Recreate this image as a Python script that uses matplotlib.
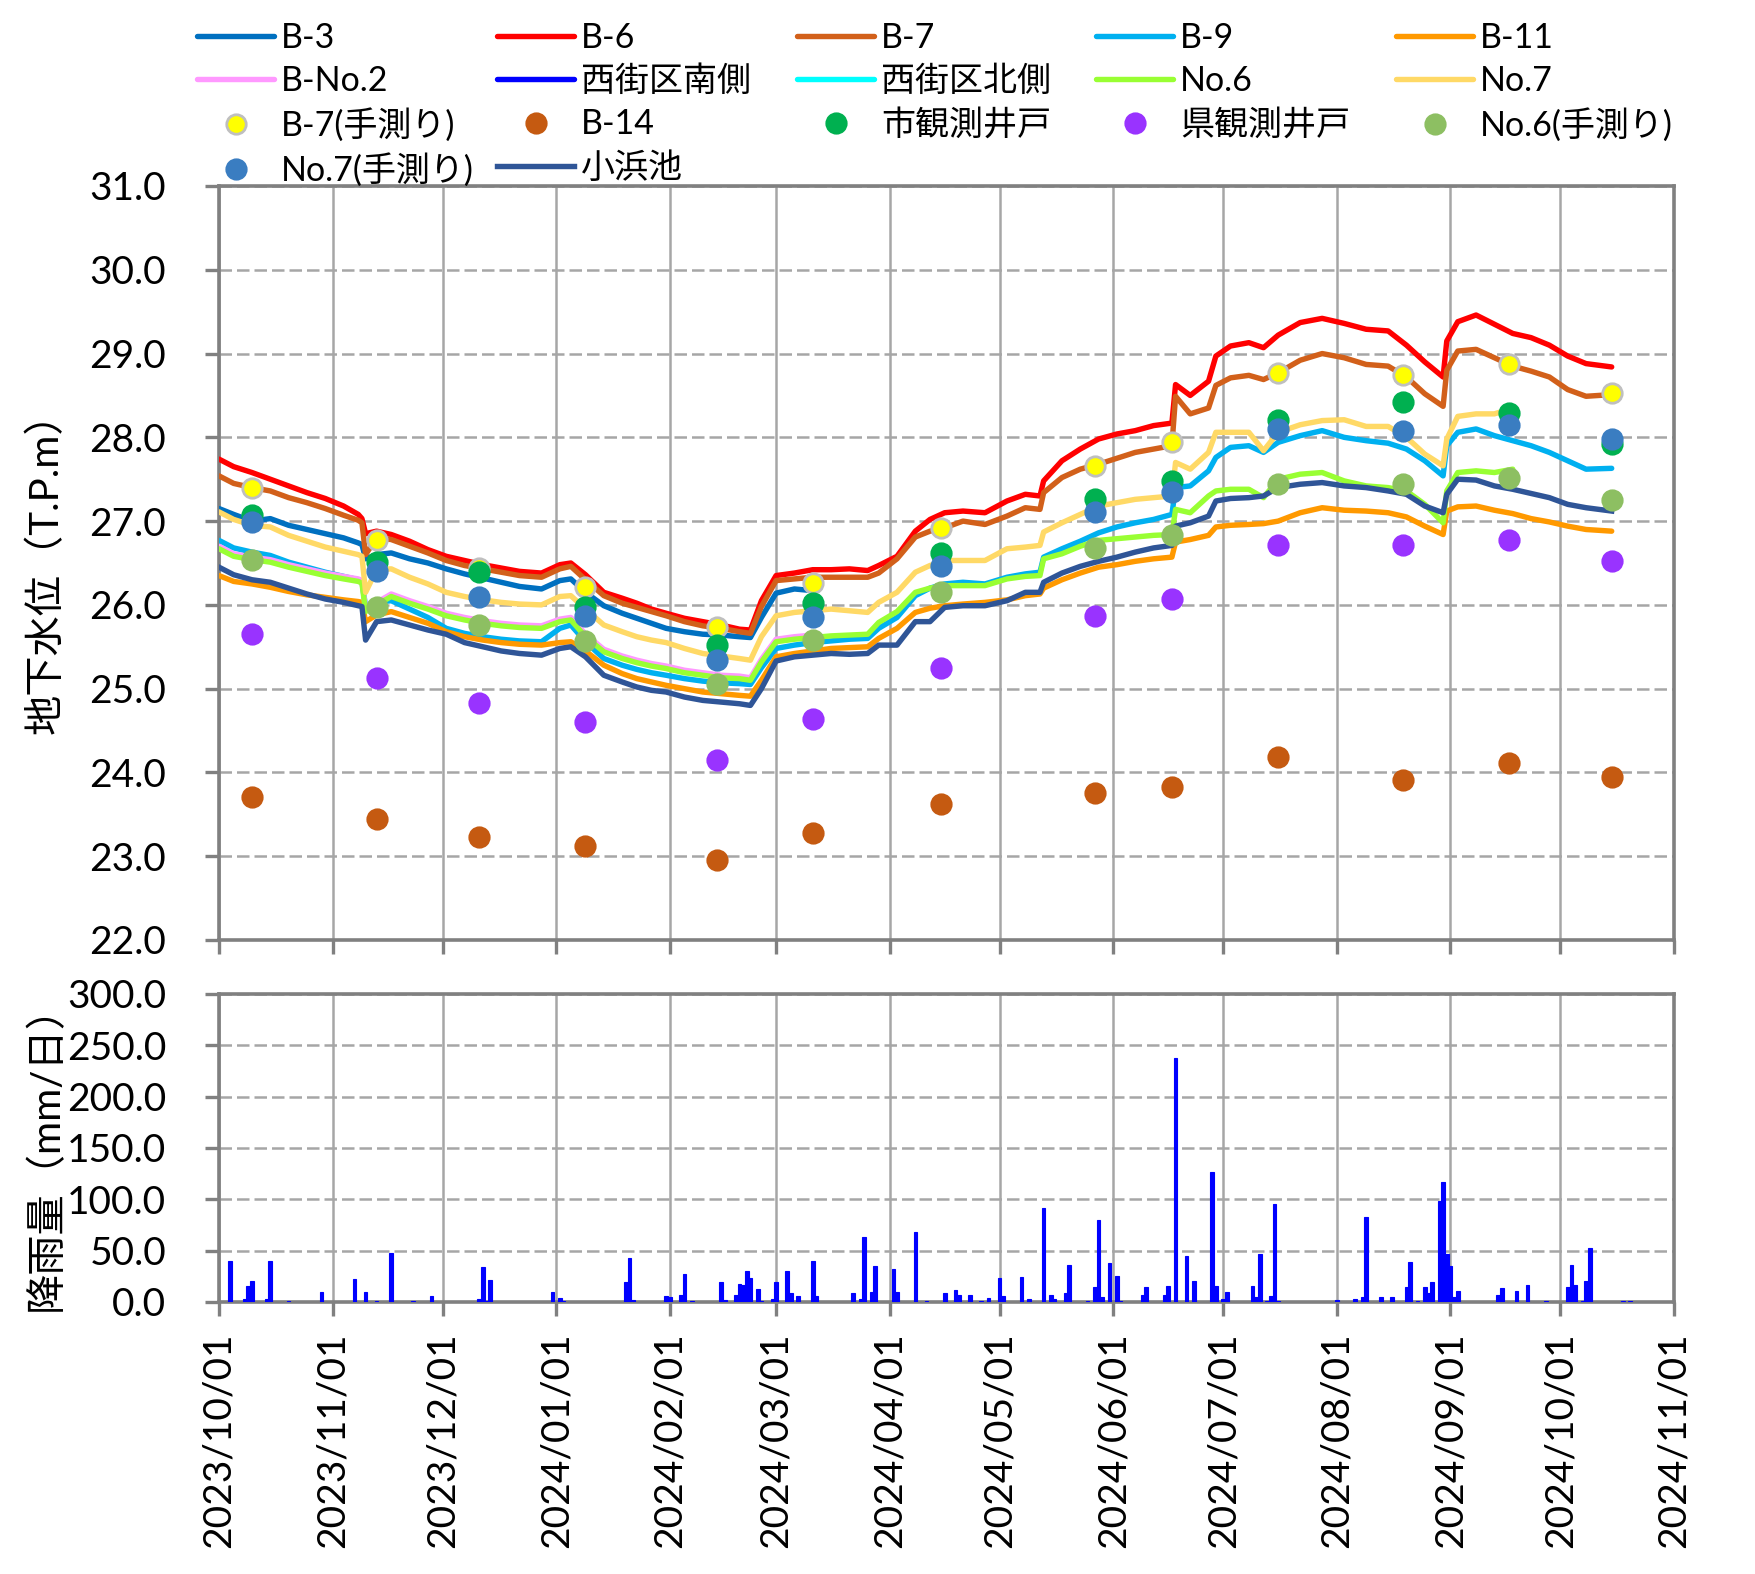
import numpy as np
import pandas as pd
import matplotlib
matplotlib.use('Agg')
import matplotlib.pyplot as plt
import matplotlib.dates as mdates

plt.rcParams['font.family'] = ['Lato', 'Noto Sans CJK JP']

# ----------------- data -----------------
dates = pd.to_datetime([
    '2023-10-01', '2023-10-05', '2023-10-10', '2023-10-15', '2023-10-20',
    '2023-10-25', '2023-10-30', '2023-11-04', '2023-11-08', '2023-11-09',
    '2023-11-10', '2023-11-13', '2023-11-17', '2023-11-22', '2023-11-27',
    '2023-12-02', '2023-12-07', '2023-12-12', '2023-12-17', '2023-12-22',
    '2023-12-28', '2024-01-02', '2024-01-05', '2024-01-09', '2024-01-14',
    '2024-01-19', '2024-01-23', '2024-01-27', '2024-01-31', '2024-02-05',
    '2024-02-10', '2024-02-15', '2024-02-20', '2024-02-23', '2024-02-26',
    '2024-03-01', '2024-03-06', '2024-03-11', '2024-03-16', '2024-03-21',
    '2024-03-26', '2024-03-29', '2024-04-03', '2024-04-08', '2024-04-12',
    '2024-04-16', '2024-04-21', '2024-04-27', '2024-05-03', '2024-05-08',
    '2024-05-12', '2024-05-13', '2024-05-18', '2024-05-23', '2024-05-28',
    '2024-06-02', '2024-06-07', '2024-06-12', '2024-06-17', '2024-06-18',
    '2024-06-22', '2024-06-27', '2024-06-29', '2024-07-03', '2024-07-08',
    '2024-07-12', '2024-07-16', '2024-07-22', '2024-07-28', '2024-08-03',
    '2024-08-09', '2024-08-15', '2024-08-20', '2024-08-25', '2024-08-30',
    '2024-08-31', '2024-09-03', '2024-09-08', '2024-09-13', '2024-09-18',
    '2024-09-23', '2024-09-28', '2024-10-03', '2024-10-08', '2024-10-15',
])

b3 = [27.15, 27.08, 27.00, 27.03, 26.95, 26.90, 26.85, 26.80, 26.74, 26.72,
      26.55, 26.60, 26.62, 26.55, 26.50, 26.43, 26.37, 26.32, 26.27, 26.22,
      26.19, 26.29, 26.31, 26.15, 25.99, 25.90, 25.84, 25.78, 25.72, 25.68,
      25.65, 25.64, 25.62, 25.61, 25.85, 26.14, 26.19, 26.17]

b6 = [27.74, 27.65, 27.58, 27.50, 27.42, 27.34, 27.27, 27.18, 27.08, 27.03,
      26.85, 26.88, 26.84, 26.76, 26.66, 26.58, 26.53, 26.48, 26.44, 26.40,
      26.38, 26.48, 26.50, 26.36, 26.15, 26.08, 26.02, 25.95, 25.90, 25.84,
      25.80, 25.76, 25.71, 25.70, 26.05, 26.35, 26.38, 26.42, 26.42, 26.43,
      26.41, 26.47, 26.58, 26.88, 27.02, 27.10, 27.12, 27.10, 27.24, 27.32,
      27.30, 27.48, 27.72, 27.86, 27.98, 28.04, 28.08, 28.14, 28.17, 28.63,
      28.50, 28.67, 28.97, 29.09, 29.13, 29.07, 29.22, 29.37, 29.42, 29.36,
      29.29, 29.27, 29.10, 28.90, 28.72, 29.15, 29.38, 29.46, 29.35, 29.24,
      29.19, 29.10, 28.97, 28.88, 28.84]

b7 = [27.54, 27.45, 27.40, 27.36, 27.28, 27.22, 27.15, 27.07, 27.01, 26.98,
      26.60, 26.80, 26.78, 26.70, 26.62, 26.53, 26.47, 26.43, 26.39, 26.35,
      26.33, 26.43, 26.46, 26.30, 26.11, 26.02, 25.97, 25.92, 25.87, 25.80,
      25.75, 25.72, 25.68, 25.66, 25.98, 26.29, 26.31, 26.33, 26.33, 26.33,
      26.33, 26.38, 26.55, 26.81, 26.88, 26.92, 27.00, 26.96, 27.06, 27.16,
      27.14, 27.34, 27.52, 27.62, 27.68, 27.75, 27.82, 27.86, 27.90, 28.49,
      28.28, 28.35, 28.62, 28.71, 28.74, 28.69, 28.77, 28.92, 29.00, 28.95,
      28.87, 28.85, 28.72, 28.52, 28.37, 28.80, 29.03, 29.05, 28.95, 28.85,
      28.79, 28.72, 28.57, 28.49, 28.51]

b9 = [26.77, 26.68, 26.63, 26.59, 26.51, 26.45, 26.39, 26.34, 26.30, 26.28,
      25.98, 26.03, 26.05, 25.95, 25.85, 25.72, 25.66, 25.62, 25.59, 25.57,
      25.56, 25.72, 25.76, 25.56, 25.36, 25.28, 25.23, 25.19, 25.16, 25.12,
      25.09, 25.07, 25.06, 25.05, 25.25, 25.48, 25.52, 25.55, 25.57, 25.59,
      25.60, 25.72, 25.85, 26.11, 26.20, 26.25, 26.27, 26.25, 26.33, 26.37,
      26.39, 26.57, 26.67, 26.76, 26.86, 26.93, 26.98, 27.02, 27.08, 27.40,
      27.42, 27.60, 27.76, 27.88, 27.90, 27.82, 27.94, 28.02, 28.08, 28.00,
      27.96, 27.93, 27.86, 27.72, 27.54, 27.90, 28.06, 28.10, 28.02, 27.96,
      27.90, 27.82, 27.72, 27.62, 27.63]

b11 = [26.35, 26.28, 26.25, 26.21, 26.16, 26.12, 26.09, 26.06, 26.04, 26.03,
       25.80, 25.88, 25.92, 25.85, 25.78, 25.68, 25.62, 25.58, 25.55, 25.53,
       25.52, 25.55, 25.56, 25.45, 25.28, 25.18, 25.12, 25.08, 25.04, 25.00,
       24.96, 24.94, 24.92, 24.91, 25.10, 25.38, 25.42, 25.45, 25.48, 25.49,
       25.50, 25.60, 25.72, 25.91, 25.96, 25.99, 26.01, 26.03, 26.06, 26.11,
       26.13, 26.20, 26.30, 26.38, 26.45, 26.48, 26.52, 26.55, 26.57, 26.75,
       26.78, 26.83, 26.93, 26.95, 26.96, 26.97, 27.00, 27.10, 27.16, 27.13,
       27.12, 27.10, 27.05, 26.94, 26.84, 27.12, 27.17, 27.18, 27.13, 27.09,
       27.03, 26.99, 26.94, 26.90, 26.88]

bno2 = [26.70, 26.61, 26.57, 26.54, 26.48, 26.43, 26.38, 26.34, 26.31, 26.29,
        25.95, 26.03, 26.13, 26.05, 25.98, 25.90, 25.85, 25.81, 25.78, 25.76,
        25.75, 25.83, 25.85, 25.65, 25.47, 25.39, 25.34, 25.30, 25.27, 25.22,
        25.19, 25.16, 25.15, 25.13, 25.35, 25.59, 25.62, 25.64]

nishi_south = []
nishi_north = []

no6 = [26.67, 26.58, 26.54, 26.51, 26.45, 26.40, 26.35, 26.31, 26.28, 26.26,
       25.92, 26.00, 26.10, 26.02, 25.95, 25.87, 25.82, 25.78, 25.75, 25.73,
       25.72, 25.80, 25.82, 25.62, 25.44, 25.36, 25.31, 25.27, 25.24, 25.19,
       25.16, 25.13, 25.12, 25.10, 25.32, 25.56, 25.59, 25.61, 25.63, 25.64,
       25.65, 25.79, 25.92, 26.15, 26.20, 26.23, 26.23, 26.23, 26.31, 26.34,
       26.35, 26.55, 26.61, 26.70, 26.77, 26.79, 26.81, 26.83, 26.84, 27.14,
       27.10, 27.30, 27.36, 27.38, 27.38, 27.28, 27.50, 27.56, 27.58, 27.48,
       27.42, 27.40, 27.36, 27.20, 26.98, 27.36, 27.58, 27.60, 27.58, 27.62]

no7 = [27.11, 27.02, 26.95, 26.93, 26.83, 26.76, 26.69, 26.64, 26.60, 26.58,
       26.15, 26.42, 26.43, 26.33, 26.25, 26.15, 26.10, 26.06, 26.03, 26.01,
       26.00, 26.10, 26.11, 25.95, 25.76, 25.68, 25.62, 25.58, 25.55, 25.48,
       25.42, 25.39, 25.36, 25.34, 25.62, 25.87, 25.91, 25.93, 25.95, 25.93,
       25.91, 26.03, 26.15, 26.39, 26.47, 26.53, 26.53, 26.53, 26.67, 26.69,
       26.71, 26.87, 26.98, 27.08, 27.18, 27.22, 27.26, 27.28, 27.30, 27.70,
       27.62, 27.82, 28.06, 28.06, 28.06, 27.84, 28.06, 28.15, 28.20, 28.21,
       28.13, 28.13, 28.00, 27.80, 27.66, 27.98, 28.25, 28.28, 28.28, 28.35]

kohama = [26.45, 26.36, 26.30, 26.27, 26.20, 26.13, 26.07, 26.03, 25.99, 25.98,
          25.58, 25.80, 25.82, 25.76, 25.70, 25.65, 25.55, 25.50, 25.45, 25.42,
          25.40, 25.48, 25.50, 25.38, 25.16, 25.08, 25.02, 24.98, 24.96, 24.90,
          24.86, 24.84, 24.82, 24.80, 25.00, 25.33, 25.38, 25.40, 25.42, 25.41,
          25.42, 25.52, 25.52, 25.80, 25.80, 25.97, 25.99, 25.99, 26.05, 26.15,
          26.15, 26.27, 26.38, 26.46, 26.52, 26.57, 26.63, 26.68, 26.71, 26.94,
          26.98, 27.06, 27.24, 27.27, 27.28, 27.30, 27.40, 27.44, 27.46, 27.42,
          27.40, 27.36, 27.32, 27.18, 27.10, 27.32, 27.50, 27.49, 27.42, 27.38,
          27.33, 27.28, 27.20, 27.16, 27.12]

# manual measurements
survey_dates = pd.to_datetime([
    '2023-10-10', '2023-11-13', '2023-12-11', '2024-01-09', '2024-02-14',
    '2024-03-11', '2024-04-15', '2024-05-27', '2024-06-17', '2024-07-16',
    '2024-08-19', '2024-09-17', '2024-10-15'])
b7_manual = [27.40, 26.77, 26.44, 26.21, 25.74, 26.26, 26.92, 27.66, 27.94, 28.77, 28.75, 28.88, 28.53]
b14 = [23.71, 23.44, 23.23, 23.12, 22.96, 23.28, 23.62, 23.75, 23.83, 24.18, 23.91, 24.11, 23.94]
city_well = [27.07, 26.51, 26.39, 25.97, 25.52, 26.02, 26.62, 27.26, 27.48, 28.21, 28.42, 28.29, 27.92]
pref_well = [25.65, 25.13, 24.83, 24.60, 24.15, 24.64, 25.25, 25.87, 26.07, 26.71, 26.71, 26.77, 26.52]
no6_manual = [26.54, 25.97, 25.76, 25.57, 25.06, 25.58, 26.15, 26.68, 26.84, 27.44, 27.44, 27.51, 27.25]
no7_manual = [26.99, 26.40, 26.09, 25.87, 25.34, 25.85, 26.46, 27.11, 27.35, 28.10, 28.08, 28.15, 27.98]

# daily rainfall
rain_dates = pd.to_datetime([
    '2023-10-04', '2023-10-08', '2023-10-09', '2023-10-10', '2023-10-14',
    '2023-10-15', '2023-10-20', '2023-10-29', '2023-11-07', '2023-11-10',
    '2023-11-13', '2023-11-17', '2023-11-23', '2023-11-28', '2023-12-11',
    '2023-12-12', '2023-12-13', '2023-12-14', '2023-12-31', '2024-01-02',
    '2024-01-03', '2024-01-20', '2024-01-21', '2024-01-22', '2024-01-31',
    '2024-02-01', '2024-02-04', '2024-02-05', '2024-02-07', '2024-02-15',
    '2024-02-16', '2024-02-19', '2024-02-20', '2024-02-21', '2024-02-22',
    '2024-02-23', '2024-02-25', '2024-02-26', '2024-02-29', '2024-03-01',
    '2024-03-04', '2024-03-05', '2024-03-07', '2024-03-11', '2024-03-12',
    '2024-03-22', '2024-03-24', '2024-03-25', '2024-03-27', '2024-03-28',
    '2024-04-02', '2024-04-03', '2024-04-08', '2024-04-11', '2024-04-16',
    '2024-04-19', '2024-04-20', '2024-04-23', '2024-04-26', '2024-04-28',
    '2024-05-01', '2024-05-02', '2024-05-07', '2024-05-09', '2024-05-13',
    '2024-05-15', '2024-05-16', '2024-05-19', '2024-05-20', '2024-05-25',
    '2024-05-27', '2024-05-28', '2024-05-29', '2024-05-31', '2024-06-02',
    '2024-06-03', '2024-06-09', '2024-06-10', '2024-06-15', '2024-06-16',
    '2024-06-18', '2024-06-21', '2024-06-23', '2024-06-28', '2024-06-29',
    '2024-07-01', '2024-07-02', '2024-07-09', '2024-07-10', '2024-07-11',
    '2024-07-13', '2024-07-14', '2024-07-15', '2024-07-16', '2024-08-01',
    '2024-08-06', '2024-08-08', '2024-08-09', '2024-08-13', '2024-08-16',
    '2024-08-20', '2024-08-21', '2024-08-23', '2024-08-25', '2024-08-26',
    '2024-08-27', '2024-08-29', '2024-08-30', '2024-08-31', '2024-09-01',
    '2024-09-02', '2024-09-03', '2024-09-14', '2024-09-15', '2024-09-19',
    '2024-09-22', '2024-09-27', '2024-10-03', '2024-10-04', '2024-10-05',
    '2024-10-07', '2024-10-08', '2024-10-09', '2024-10-18', '2024-10-20'])
rain_mm = [40, 3, 16, 20, 3, 40, 1, 10, 22, 10,
           1, 48, 1, 5.5, 3, 34, 1, 21, 10, 4,
           1, 19, 43, 2, 6, 5, 7, 27, 1, 19,
           2, 7, 18, 17, 30, 23, 13, 1, 3, 19,
           30, 9, 6, 40, 6, 9, 3, 63, 10, 35,
           32, 10, 68, 1, 9, 12, 7, 7, 1, 4,
           23, 6, 24, 3, 92, 7, 3, 9, 36, 1,
           15, 80, 5, 38, 25, 1, 7, 15, 7, 16,
           238, 45, 20, 127, 16, 3, 10, 16, 5, 47,
           1, 6, 95, 1, 2, 3, 5, 83, 5, 5,
           15, 39, 1, 15, 9, 19, 98, 117, 47, 35,
           5, 11, 7, 14, 11, 17, 1, 15, 36, 17,
           1, 20, 53, 1, 1]

# ----------------- figure -----------------
W, H = 1755, 1574
fig = plt.figure(figsize=(W / 100, H / 100), dpi=100)
ax1 = fig.add_axes([219 / W, 1 - 940 / H, 1455 / W, 754 / H])
ax2 = fig.add_axes([219 / W, 1 - 1302 / H, 1455 / W, 308 / H])

lw = 3.9
handles = {}
line_specs = [
    ('B-3', dates[:len(b3)], b3, '#0070C0'),
    ('B-6', dates, b6, '#FF0000'),
    ('B-7', dates, b7, '#D2601A'),
    ('B-9', dates, b9, '#00B0F0'),
    ('B-11', dates, b11, '#FF9900'),
    ('B-No.2', dates[:len(bno2)], bno2, '#FF99FF'),
    ('西街区南側', dates[:len(nishi_south)], nishi_south, '#0000FF'),
    ('西街区北側', dates[:len(nishi_north)], nishi_north, '#00FFFF'),
    ('No.6', dates[:len(no6)], no6, '#99FF33'),
    ('No.7', dates[:len(no7)], no7, '#FFD966'),
]
for name, d, v, c in line_specs:
    handles[name], = ax1.plot(d, v, color=c, lw=lw, solid_capstyle='round',
                              solid_joinstyle='round', zorder=3)

marker_specs = [
    ('B-7(手測り)', b7_manual, '#FFFF00', '#BFBFBF'),
    ('B-14', b14, '#C55A11', '#C55A11'),
    ('市観測井戸', city_well, '#00B050', '#00B050'),
    ('県観測井戸', pref_well, '#9933FF', '#9933FF'),
    ('No.6(手測り)', no6_manual, '#8DBF62', '#8DBF62'),
    ('No.7(手測り)', no7_manual, '#3A7DC1', '#3A7DC1'),
]
for name, v, fc, ec in marker_specs:
    handles[name], = ax1.plot(survey_dates, v, ls='none', marker='o', ms=14,
                              mfc=fc, mec=ec, mew=2, zorder=5)

handles['小浜池'], = ax1.plot(dates, kohama, color='#2F5597', lw=lw,
                            solid_joinstyle='round', zorder=4)

ax2.bar(rain_dates, rain_mm, width=1.0, color='#0000FF', edgecolor='#0000FF',
        linewidth=0.8, zorder=3)

# ----------------- axes styling -----------------
xmin, xmax = pd.Timestamp('2023-10-01'), pd.Timestamp('2024-11-01')
grid_c = '#A6A6A6'
for ax in (ax1, ax2):
    ax.set_xlim(xmin, xmax)
    ax.xaxis.set_major_locator(mdates.MonthLocator(bymonthday=1))
    ax.xaxis.set_major_formatter(mdates.DateFormatter('%Y/%m/%d'))
    ax.set_axisbelow(True)
    ax.grid(axis='x', color=grid_c, lw=1.8, ls='-')
    ax.grid(axis='y', color=grid_c, lw=1.8, ls=(0, (5, 2)))
    for sp in ax.spines.values():
        sp.set_color('#808080')
        sp.set_linewidth(2.6)
    ax.tick_params(axis='both', direction='out', length=10, width=2.4,
                   color='#808080', labelsize=28)
    ax.tick_params(axis='y', pad=28)

ax1.set_ylim(22, 31)
ax1.set_yticks(np.arange(22, 32, 1))
ax1.yaxis.set_major_formatter(plt.FuncFormatter(lambda v, p: f'{v:.1f}'))
ax1.tick_params(axis='x', labelbottom=False)

ax2.set_ylim(0, 300)
ax2.set_yticks(np.arange(0, 301, 50))
ax2.yaxis.set_major_formatter(plt.FuncFormatter(lambda v, p: f'{v:.1f}'))
ax2.tick_params(axis='x', labelrotation=90, pad=12)

ax1.set_ylabel('地下水位（T.P.m）', fontsize=29)
ax1.yaxis.set_label_coords(-0.106, 0.5)
ax2.set_ylabel('降雨量（mm/日）', fontsize=29)
ax2.yaxis.set_label_coords(-0.106, 0.5)

# ----------------- legend (5 columns, row-major like the source) -----------------
columns = [
    ['B-3', 'B-No.2', 'B-7(手測り)', 'No.7(手測り)'],
    ['B-6', '西街区南側', 'B-14', '小浜池'],
    ['B-7', '西街区北側', '市観測井戸'],
    ['B-9', 'No.6', '県観測井戸'],
    ['B-11', 'No.7', 'No.6(手測り)'],
]
col_x = [197, 497, 797, 1096, 1396]
for names, x in zip(columns, col_x):
    fig.legend([handles[n] for n in names], names, loc='upper left',
               bbox_to_anchor=(x / W, 1 - 22 / H), frameon=False, fontsize=24.5,
               handlelength=2.27, handletextpad=0.2, labelspacing=0.33,
               borderpad=0, borderaxespad=0)

fig.savefig('out.png', dpi=100)
